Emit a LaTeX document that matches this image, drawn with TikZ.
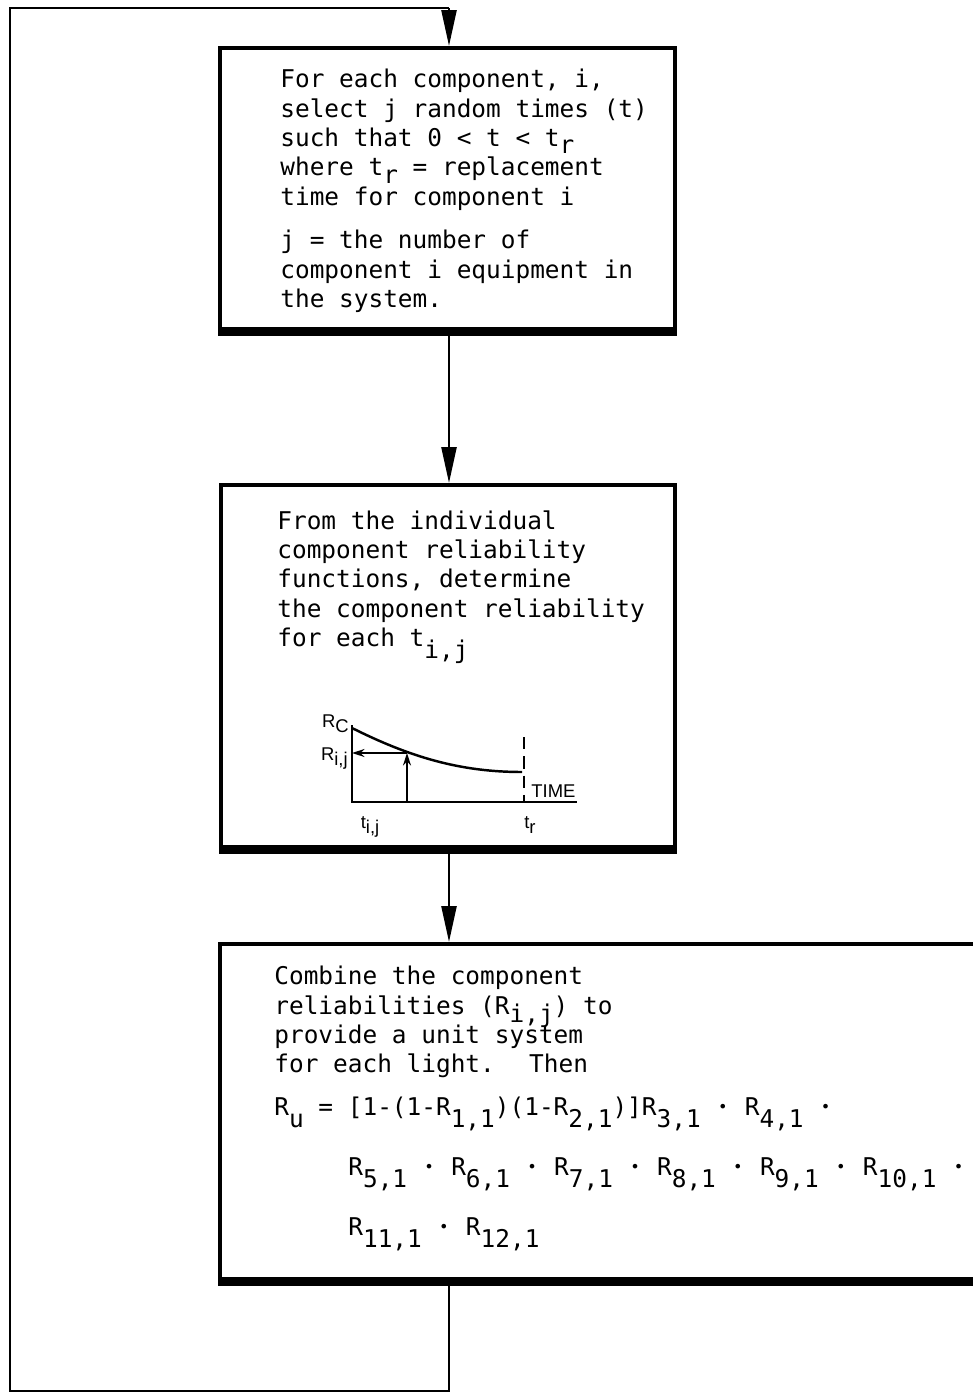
\documentclass[tikz,border=0pt]{standalone}
\usepackage{fontspec}
\newfontfamily\typefont{DejaVu Sans Mono}
\newfontfamily\plotfont{Liberation Sans}
\usetikzlibrary{positioning,arrows.meta}

\newcommand{\lo}[2][0.5em]{\smash{\raisebox{-#1}{#2}}}
\newcommand{\plo}[1]{\smash{\raisebox{-0.3em}{#1}}}
\newcommand{\pdot}{\makebox[0.602em]{\fontsize{9}{9}\selectfont\raisebox{0.15em}{•}}}

\tikzstyle{stepbox} = [rectangle, draw=black, line width=2.2pt, inner sep=0pt,
                       anchor=north west]
\tikzstyle{boxtext} = [anchor=north west, align=left, inner sep=0pt,
                       font=\typefont\fontsize{13.9}{16.7}\selectfont]
\tikzstyle{boxline} = [boxtext, anchor=base west]
\tikzstyle{plotlabel} = [inner sep=0pt, font=\plotfont\fontsize{10.5}{12}\selectfont]
\tikzstyle{arrow} = [line width=1.4pt,-{Stealth[length=0.72cm,width=0.3cm,inset=0pt]}]
\tikzstyle{line} = [line width=1.4pt]
\tikzstyle{shadow} = [line width=4pt]
\tikzstyle{axis} = [line width=1.4pt]
\tikzstyle{plotarrow} = [line width=0.9pt,-{Stealth[length=0.25cm,width=0.16cm]}]

\begin{document}
\begin{tikzpicture}[x=0.02cm, y=-0.02cm]
  \clip (0,0) rectangle (973,1393);
  %blocks
  \node (select) [stepbox, minimum width=9.1cm, minimum height=5.62cm] at (218,46) {};
  \node (reliab) [stepbox, minimum width=9.08cm, minimum height=7.24cm] at (219,483) {};
  \node (combine) [stepbox, minimum width=15.8cm, minimum height=6.7cm] at (218,942) {};
  \draw [shadow] ([yshift=-1pt]select.south west) -- ([yshift=-1pt]select.south east);
  \draw [shadow] ([yshift=-1pt]reliab.south west) -- ([yshift=-1pt]reliab.south east);
  \draw [shadow] ([yshift=-1pt]combine.south west) -- ([yshift=-1pt]combine.south east);
  %texts
  \node (selecttxt) [boxtext] at (280,69) {For each component, i,\\
    select j random times (t)\\ such that 0 < t < t\lo[0.3em]{r}\\
    where t\lo[0.3em]{r} = replacement\\ time for component i};
  \node (numtxt) [boxtext] at (280,230) {j = the number of\\
    component i equipment in\\ the system.};
  \node (reliabtxt) [boxtext] at (277,510) {From the individual\\
    component reliability\\ functions, determine\\
    the component reliability\\ for each t\lo{i,j}};
  \node (combinetxt) [boxtext] at (274,966) {Combine the component\\
    reliabilities (R\lo[0.35em]{i,j}) to\\ provide a unit system\\
    for each light.~ Then};
  \node (rutxt) [boxline] at (274,1115)
    {R\lo{u} = [1-(1-R\lo{1,1})(1-R\lo{2,1})]R\lo{3,1} \pdot{} R\lo{4,1} \pdot};
  \node (rutxtb) [boxline] at (348,1175)
    {R\lo{5,1} \pdot{} R\lo{6,1} \pdot{} R\lo{7,1} \pdot{} R\lo{8,1} \pdot{} R\lo{9,1} \pdot{} R\lo{10,1} \pdot};
  \node (rutxtc) [boxline] at (348,1235) {R\lo{11,1} \pdot{} R\lo{12,1}};
  %plot
  \coordinate (orig) at (352,802);
  \coordinate (ytop) at (352,725);
  \coordinate (xend) at (577,802);
  \coordinate (cstart) at (352,728);
  \coordinate (cend) at (522,772);
  \coordinate (hit) at (407,753);
  \coordinate (trtop) at (524,737);
  \draw [axis] (ytop) -- (orig) -- (xend);
  \draw [axis] (cstart) .. controls (410,757) and (460,772) .. (cend);
  \draw [line width=1pt, dashed, dash pattern=on 7pt off 4pt] (trtop) -- (orig -| trtop);
  \draw [plotarrow] (orig -| hit) -- (hit);
  \draw [plotarrow] (hit) -- (hit -| orig);
  \node (rc) [plotlabel, anchor=base east] at (349,727) {R\plo{C}};
  \node (rij) [plotlabel, anchor=base east] at (348,760) {R\plo{i,j}};
  \node (time) [plotlabel, anchor=base west] at (531,797) {TIME};
  \node (tij) [plotlabel, anchor=base] at (370,828) {t\plo{i,j}};
  \node (tr) [plotlabel, anchor=base] at (530,828) {t\plo{r}};
  %connections
  \coordinate (looptop) at (449,8);
  \coordinate (loopleft) at (10,8);
  \coordinate (loopbl) at (10,1391);
  \coordinate (loopbot) at (449,1391);
  % combine -> back to select
  \draw [line] (combine.south -| loopbot) -- (loopbot) -- (loopbl) -- (loopleft) -- (looptop);
  \draw [arrow] (looptop) -- (select.north -| looptop);
  % select -> reliab -> combine
  \draw [arrow] (select.south -| looptop) -- (reliab.north -| looptop);
  \draw [arrow] (reliab.south -| looptop) -- (combine.north -| looptop);
\end{tikzpicture}
\end{document}
